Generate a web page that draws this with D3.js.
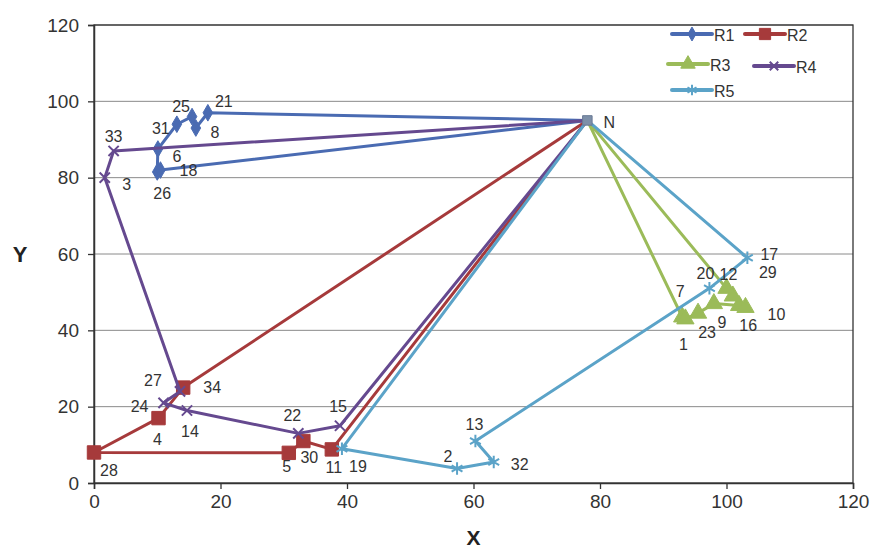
<!DOCTYPE html>
<html lang="en">
<head>
  <meta charset="UTF-8">
  <title>Routes</title>
  <script src="https://d3js.org/d3.v7.min.js"></script>
  <style>
    body { margin: 0; background: #fff; }
    text { font-family: "Liberation Sans", Arial, sans-serif; }
  </style>
</head>
<body>
  <div id="chart"></div>
  <script>
    // nodes: depot N and customers 1..34
    const node_ids = ["N", "1", "2", "3", "4", "5", "6", "7", "8", "9", "10", "11", "12", "13", "14", "15", "16", "17",
      "18", "19", "20", "21", "22", "23", "24", "25", "26", "27", "28", "29", "30", "31", "32", "33", "34"];
    const node_x = [78, 93.5, 57.4, 1.7, 10.2, 30.8, 10.1, 93, 16.1, 98, 103, 37.6, 100, 60.3, 14.7, 38.9, 102, 103.3,
      10.5, 39.2, 97.3, 18, 32.3, 95.5, 11, 15.5, 10, 13.6, 0, 101, 33.1, 13.1, 63.2, 3.1, 14.1];
    const node_y = [95, 43, 3.8, 80, 17, 7.9, 87.5, 43.5, 93, 47, 46, 8.8, 51, 11, 19, 15, 46.5, 59,
      82, 9, 51, 97, 13, 44.5, 21, 96, 81.5, 24, 8, 49, 11, 94, 5.5, 87, 25];

    const route_names = ["R1", "R2", "R3", "R4", "R5"];
    const route_r1 = ["N", "21", "8", "25", "31", "6", "26", "18", "N"];
    const route_r2 = ["N", "34", "4", "28", "5", "30", "11", "N"];
    const route_r3 = ["N", "7", "1", "23", "9", "16", "10", "29", "12", "N"];
    const route_r4 = ["N", "33", "3", "27", "24", "14", "22", "15", "N"];
    const route_r5 = ["N", "19", "2", "32", "13", "20", "17", "N"];
    const routes = [route_r1, route_r2, route_r3, route_r4, route_r5];

    const x_ticks = [0, 20, 40, 60, 80, 100, 120];
    const y_ticks = [0, 20, 40, 60, 80, 100, 120];

    // styling / layout
    const colors = ["#4a6bb2", "#a63a3b", "#9bbb59", "#65498f", "#5ba3c8"];
    const symbols = [d3.symbolDiamond, d3.symbolSquare, d3.symbolTriangle, d3.symbolX, d3.symbolAsterisk];
    const symbol_sizes = [80, 180, 130, 70, 110];
    const stroked = [false, false, false, true, true];

    // label offsets in pixels from the point
    const label_offset = {
      "N": [22, 2], "21": [16, -11], "25": [-11, -10], "31": [-16, 4], "8": [19, 4], "6": [19, 7],
      "18": [28, 0], "26": [5, 22], "33": [0, -14], "3": [22, 7], "27": [-27, -11], "34": [29, 0],
      "24": [-24, 4], "4": [-1, 21], "14": [3, 21], "28": [15, 18], "22": [-6, -18], "15": [-2, -19],
      "5": [-2, 14], "30": [6, 16], "11": [2, 18], "19": [16, 18], "2": [-9, -12], "32": [26, 2],
      "13": [-1, -17], "17": [22, -3], "29": [35, -23], "20": [-4, -15], "12": [2, -14], "7": [-2, -25],
      "10": [31, 7], "16": [9, 20], "9": [8, 19], "23": [9, 19], "1": [-2, 26]
    };

    const svg_width = 876;
    const svg_height = 550;
    const plot_left = 94, plot_right = 853, plot_top = 25, plot_bottom = 483;

    const nodes = {};
    node_ids.forEach((id, i) => { nodes[id] = { id: id, x: node_x[i], y: node_y[i] }; });

    const svg = d3.select("#chart")
      .append("svg")
      .attr("width", svg_width)
      .attr("height", svg_height);

    const x = d3.scaleLinear().domain([0, 120]).range([plot_left, plot_right]);
    const y = d3.scaleLinear().domain([0, 120]).range([plot_bottom, plot_top]);

    // gridlines
    svg.append("g")
      .selectAll("line")
      .data(y_ticks.slice(1))
      .enter()
      .append("line")
      .attr("x1", plot_left)
      .attr("x2", plot_right)
      .attr("y1", d => y(d))
      .attr("y2", d => y(d))
      .attr("stroke", "#8a8a8a")
      .attr("stroke-width", 1);

    // frame
    svg.append("rect")
      .attr("x", plot_left)
      .attr("y", plot_top)
      .attr("width", plot_right - plot_left)
      .attr("height", plot_bottom - plot_top)
      .attr("fill", "none")
      .attr("stroke", "#333")
      .attr("stroke-width", 1.3);

    const x_axis = svg.append("g")
      .attr("transform", "translate(0," + plot_bottom + ")")
      .call(d3.axisBottom(x).tickValues(x_ticks).tickSize(6).tickPadding(6));
    const y_axis = svg.append("g")
      .attr("transform", "translate(" + plot_left + ",0)")
      .call(d3.axisLeft(y).tickValues(y_ticks).tickSize(6).tickPadding(9));

    [x_axis, y_axis].forEach(a => {
      a.select(".domain").attr("stroke", "#333").attr("stroke-width", 1.5);
      a.selectAll(".tick line").attr("stroke", "#333").attr("stroke-width", 1.3);
      a.selectAll(".tick text")
        .attr("fill", "#333")
        .style("font-size", "19px")
        .style("font-family", "Liberation Sans, Arial, sans-serif");
    });

    svg.append("text")
      .attr("x", x(60))
      .attr("y", 537)
      .attr("text-anchor", "middle")
      .attr("dominant-baseline", "central")
      .attr("font-size", 21)
      .attr("font-weight", "bold")
      .attr("fill", "#222")
      .text("X");

    svg.append("text")
      .attr("x", 20)
      .attr("y", y(60))
      .attr("text-anchor", "middle")
      .attr("dominant-baseline", "central")
      .attr("font-size", 22)
      .attr("font-weight", "bold")
      .attr("fill", "#222")
      .text("Y");

    const line = d3.line()
      .x(d => x(nodes[d].x))
      .y(d => y(nodes[d].y));

    // route lines and markers
    routes.forEach((route, r) => {
      const g = svg.append("g");
      g.append("path")
        .attr("d", line(route))
        .attr("fill", "none")
        .attr("stroke", colors[r])
        .attr("stroke-width", 3)
        .attr("stroke-linejoin", "round");

      g.selectAll("path.marker")
        .data(route.filter(d => d !== "N"))
        .enter()
        .append("path")
        .attr("class", "marker")
        .attr("d", d3.symbol().type(symbols[r]).size(symbol_sizes[r]))
        .attr("transform", d => "translate(" + x(nodes[d].x) + "," + y(nodes[d].y) + ")")
        .attr("fill", stroked[r] ? "none" : colors[r])
        .attr("stroke", colors[r])
        .attr("stroke-width", stroked[r] ? 2 : 1);
    });

    // depot marker
    svg.append("path")
      .attr("d", d3.symbol().type(d3.symbolSquare).size(90))
      .attr("transform", "translate(" + x(nodes["N"].x) + "," + y(nodes["N"].y) + ")")
      .attr("fill", "#7d8fa8")
      .attr("stroke", "#6a7a95");

    // point labels
    svg.append("g")
      .selectAll("text")
      .data(node_ids)
      .enter()
      .append("text")
      .attr("x", d => x(nodes[d].x) + label_offset[d][0])
      .attr("y", d => y(nodes[d].y) + label_offset[d][1])
      .attr("text-anchor", "middle")
      .attr("dominant-baseline", "central")
      .attr("font-size", 16)
      .attr("fill", "#333")
      .text(d => d);

    // legend
    const legend_pos = [[672, 34], [745, 34], [668, 64], [754, 66], [672, 90]];
    const legend = svg.append("g")
      .selectAll("g")
      .data(route_names)
      .enter()
      .append("g")
      .attr("transform", (d, i) => "translate(" + legend_pos[i][0] + "," + legend_pos[i][1] + ")");

    legend.append("line")
      .attr("x1", 0)
      .attr("x2", 40)
      .attr("stroke", (d, i) => colors[i])
      .attr("stroke-width", 4)
      .attr("stroke-linecap", "round");

    legend.append("path")
      .attr("d", (d, i) => d3.symbol().type(symbols[i]).size(symbol_sizes[i] * 0.7)())
      .attr("transform", "translate(20,0)")
      .attr("fill", (d, i) => stroked[i] ? "none" : colors[i])
      .attr("stroke", (d, i) => colors[i])
      .attr("stroke-width", (d, i) => stroked[i] ? 2 : 1);

    legend.append("text")
      .attr("x", 42)
      .attr("y", 1)
      .attr("dominant-baseline", "central")
      .attr("font-size", 16)
      .attr("fill", "#333")
      .text(d => d);
  </script>
</body>
</html>
